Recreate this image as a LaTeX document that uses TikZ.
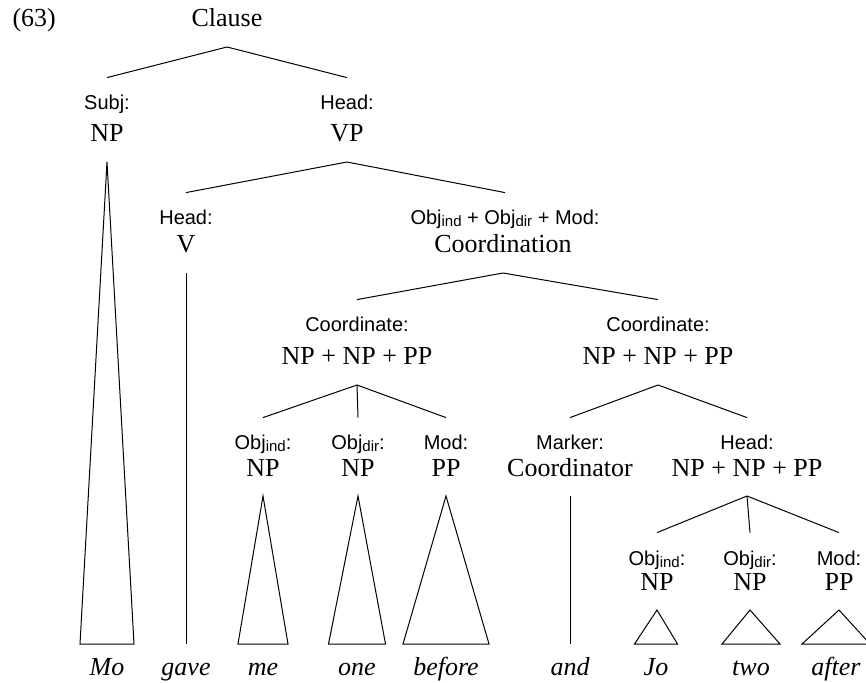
\documentclass[tikz,border=0pt]{standalone}
\usepackage{fontspec}
\setmainfont{Liberation Serif}
\setsansfont{Liberation Sans}
\usetikzlibrary{calc}

% small lowered index on a function label
\newcommand{\lo}[1]{\raisebox{-1pt}{\fontsize{7.5}{9}\selectfont #1}}
% roof over a word: apex node, word node, half width of the base
\newcommand{\roof}[3]{%
  \draw (#1.south) -- ($(#2.north)+(-#3,0)$) -- ($(#2.north)+(#3,0)$) -- cycle;}

\begin{document}
\begin{tikzpicture}[x=.5pt,y=-.5pt,line width=.5pt,
  fn/.style={inner sep=0pt,outer xsep=0pt,outer ysep=9pt,anchor=base,text height=7.2pt,font=\sffamily\fontsize{10}{12}\selectfont},
  cat/.style={inner sep=0pt,outer xsep=0pt,outer ysep=10pt,anchor=base,text depth=0pt,font=\fontsize{13}{15.6}\selectfont},
  word/.style={inner sep=0pt,outer xsep=0pt,outer ysep=15pt,anchor=base,text height=0pt,text depth=0pt,font=\itshape\fontsize{13}{15.6}\selectfont}]
\path[use as bounding box] (0,0) rectangle (866,683);
\path[fill=white,draw=none] (0,0) rectangle (866,683);
\node[inner sep=0pt,anchor=base west,font=\fontsize{13}{15.6}\selectfont] (exno) at (12,27) {(63)};
% top of the clause
\node[cat] (clause) at (227,27) {Clause};
\node[fn] (subjfn) at (107,110) {Subj:};
\node[cat] (subjnp) at (107,142) {NP};
\node[fn] (headfn) at (347,110) {Head:};
\node[cat] (vp) at (347,142) {VP};
% verb phrase
\node[fn] (vfn) at (186,225) {Head:};
\node[cat] (v) at (186,253) {V};
\node[fn] (coordfn) at (505,225) {Obj\lo{ind} + Obj\lo{dir} + Mod:};
\node[cat] (coordn) at (503,253) {Coordination};
% the two coordinates
\node[fn] (lcfn) at (357,332) {Coordinate:};
\node[cat] (lc) at (357,365) {NP + NP + PP};
\node[fn] (rcfn) at (658,332) {Coordinate:};
\node[cat] (rc) at (658,365) {NP + NP + PP};
% first coordinate
\node[fn] (oifn) at (263,450) {Obj\lo{ind}:};
\node[cat] (oi) at (263,476) {NP};
\node[fn] (odfn) at (358,450) {Obj\lo{dir}:};
\node[cat] (od) at (358,476) {NP};
\node[fn] (mdfn) at (446,450) {Mod:};
\node[cat] (md) at (446,476) {PP};
% second coordinate
\node[fn] (mkfn) at (570,450) {Marker:};
\node[cat] (mk) at (570,476) {Coordinator};
\node[fn] (hdfn) at (747,450) {Head:};
\node[cat] (hd) at (747,476) {NP + NP + PP};
\node[fn] (oitfn) at (657,565) {Obj\lo{ind}:};
\node[cat] (oit) at (657,590) {NP};
\node[fn] (odtfn) at (750,565) {Obj\lo{dir}:};
\node[cat] (odt) at (750,590) {NP};
\node[fn] (mdtfn) at (839,565) {Mod:};
\node[cat] (mdt) at (839,590) {PP};
% words
\node[word] (w-mo) at (107,675) {Mo};
\node[word] (w-gave) at (186,675) {gave};
\node[word] (w-me) at (263,675) {me};
\node[word] (w-one) at (357,675) {one};
\node[word] (w-before) at (446,675) {before};
\node[word] (w-and) at (570,675) {and};
\node[word] (w-jo) at (656,675) {Jo};
\node[word] (w-two) at (751,675) {two};
\node[word] (w-after) at (836,675) {after};
% branches
\draw (clause.south) -- (subjfn.north);
\draw (clause.south) -- (headfn.north);
\draw (vp.south) -- (vfn.north);
\draw (vp.south) -- (coordfn.north);
\draw (coordn.south) -- (lcfn.north);
\draw (coordn.south) -- (rcfn.north);
\draw (lc.south) -- (oifn.north);
\draw (lc.south) -- (odfn.north);
\draw (lc.south) -- (mdfn.north);
\draw (rc.south) -- (mkfn.north);
\draw (rc.south) -- (hdfn.north);
\draw (hd.south) -- (oitfn.north);
\draw (hd.south) -- (odtfn.north);
\draw (hd.south) -- (mdtfn.north);
\draw (v.south) -- (w-gave.north);
\draw (mk.south) -- (w-and.north);
% roofs
\roof{subjnp}{w-mo}{27}
\roof{oi}{w-me}{25}
\roof{od}{w-one}{28.5}
\roof{md}{w-before}{43}
\roof{oit}{w-jo}{21.5}
\roof{odt}{w-two}{29}
\roof{mdt}{w-after}{34}
\end{tikzpicture}
\end{document}
